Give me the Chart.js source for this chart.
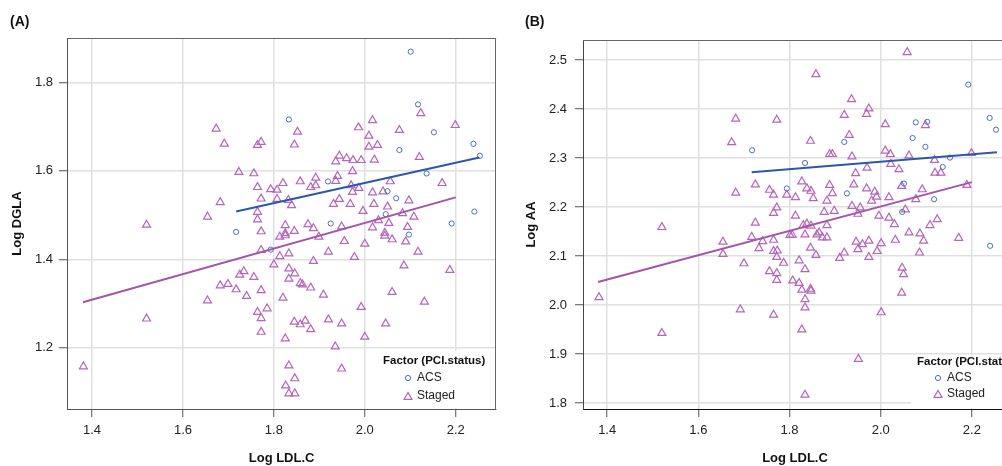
<!DOCTYPE html>
<html><head><meta charset="utf-8">
<script src="https://cdn.jsdelivr.net/npm/chart.js@4.4.1/dist/chart.umd.min.js"></script>
<style>
html,body{margin:0;padding:0;background:#fff;overflow:hidden;width:1002px;height:466px;}
#wrap{position:relative;width:1002px;height:466px;overflow:hidden;background:#fff;}
canvas{position:absolute;top:0;}
#cA{left:0;}
#cB{left:500px;}
</style></head><body>
<div id="wrap">
<canvas id="cA" width="502" height="466"></canvas>
<canvas id="cB" width="520" height="466"></canvas>
</div>
<script>
// ---------- tick labels ----------
const xTicks = [1.4, 1.6, 1.8, 2.0, 2.2];
const aYTicks = [1.2, 1.4, 1.6, 1.8];
const bYTicks = [1.8, 1.9, 2.0, 2.1, 2.2, 2.3, 2.4, 2.5];

// ---------- Panel A: Log LDL.C vs Log DGLA ----------
const acsXA = [2.101,2.117,1.833,2.152,2.239,2.253,2.076,2.136,1.919,2.050,2.069,2.046,1.925,2.191,2.241,2.097,1.717,1.793];
const acsYA = [1.869,1.750,1.716,1.687,1.661,1.634,1.647,1.594,1.576,1.554,1.538,1.502,1.481,1.481,1.508,1.456,1.462,1.422];
const stagedXA = [1.673,1.691,1.723,1.682,1.654,1.520,1.682,1.699,1.717,1.725,
  1.734,1.740,1.654,1.520,1.381,1.772,1.764,1.852,1.845,1.986,
  2.017,2.009,2.009,2.028,1.944,1.936,1.960,1.974,1.992,2.021,
  1.973,1.756,1.858,1.892,1.881,1.892,1.940,1.936,1.820,1.764,
  1.793,1.807,1.970,1.987,2.017,1.973,1.772,1.807,1.832,1.839,
  1.944,1.931,1.968,2.020,1.764,1.764,1.996,1.825,1.772,1.845,
  1.875,1.887,1.813,1.825,1.825,1.899,1.949,2.017,1.955,2.000,
  1.772,1.813,1.833,1.920,1.977,1.800,1.887,1.833,1.756,1.846,
  1.833,1.858,1.863,1.881,1.772,1.820,1.909,1.992,1.764,1.785,
  1.772,1.845,1.858,1.869,1.881,1.920,1.949,1.772,1.825,2.000,
  2.086,2.187,2.060,2.131,2.046,2.117,2.090,2.060,2.044,2.044,
  1.935,1.949,1.833,1.846,1.826,1.833,1.846,
  2.123,2.199,2.076,2.120,2.170,2.056,2.040,2.097,2.050,2.083,2.108,2.053,2.094,2.030];
const stagedYA = [1.695,1.661,1.597,1.529,1.496,1.478,1.341,1.344,1.332,1.365,
  1.373,1.317,1.307,1.266,1.158,1.665,1.658,1.688,1.659,1.698,
  1.714,1.679,1.654,1.658,1.634,1.621,1.628,1.624,1.624,1.625,
  1.599,1.594,1.576,1.584,1.563,1.567,1.588,1.577,1.572,1.563,
  1.558,1.557,1.567,1.561,1.551,1.552,1.537,1.536,1.534,1.522,
  1.536,1.525,1.525,1.525,1.507,1.490,1.509,1.477,1.463,1.464,
  1.479,1.470,1.451,1.454,1.459,1.451,1.474,1.472,1.441,1.435,
  1.421,1.407,1.413,1.417,1.405,1.388,1.396,1.379,1.360,1.368,
  1.356,1.346,1.343,1.336,1.330,1.313,1.320,1.292,1.281,1.289,
  1.267,1.259,1.253,1.261,1.242,1.264,1.255,1.236,1.221,1.225,
  1.386,1.376,1.326,1.304,1.255,1.417,1.440,1.445,1.460,1.453,
  1.203,1.153,1.160,1.131,1.115,1.097,1.097,
  1.730,1.703,1.692,1.631,1.572,1.576,1.553,1.533,1.519,1.504,1.496,1.482,1.473,1.488];
const fitAcsXA = [1.717, 2.252];
const fitAcsYA = [1.508, 1.630];
const fitStagedXA = [1.380, 2.200];
const fitStagedYA = [1.303, 1.540];

// ---------- Panel B: Log LDL.C vs Log AA ----------
const acsXB = [2.102,2.117,1.834,2.152,2.239,2.253,2.077,2.136,1.920,2.051,2.070,2.047,1.926,2.192,2.240,2.098,1.718,1.794];
const acsYB = [2.374,2.216,2.290,2.301,2.382,2.358,2.373,2.282,2.333,2.248,2.341,2.190,2.228,2.450,2.121,2.323,2.316,2.238];
const stagedXB = [1.682,1.673,1.725,1.682,1.520,1.725,1.717,1.654,1.654,1.733,
  1.700,1.692,1.520,1.382,1.772,1.846,1.931,1.920,1.936,1.974,
  1.969,2.010,1.888,1.894,1.937,2.010,2.021,2.022,2.040,1.945,
  1.970,1.827,1.756,1.765,1.794,1.813,1.838,1.847,1.852,1.888,
  1.894,1.941,1.969,1.987,1.991,1.980,2.018,1.882,1.772,1.765,
  1.813,1.876,1.898,1.937,1.955,1.950,1.996,2.018,2.030,1.830,
  1.838,1.847,1.882,1.741,1.765,1.801,1.806,1.834,1.860,1.865,
  1.872,1.882,1.946,1.960,1.974,2.001,2.032,1.765,1.773,1.846,
  1.858,1.920,1.950,1.992,1.772,1.787,1.821,1.910,1.974,1.834,
  1.756,1.772,1.772,1.807,1.821,1.827,1.846,1.847,1.834,1.834,
  1.765,2.001,1.827,2.046,1.951,1.834,2.062,2.086,2.094,2.171,
  2.085,2.047,2.050,2.058,1.858,2.098,2.062,2.118,2.199,2.119,
  2.132,2.189,2.046,2.091,2.077,2.054,2.124,2.108];
const stagedYB = [2.380,2.332,2.246,2.229,2.159,2.168,2.139,2.129,2.104,2.116,
  2.085,1.991,1.943,2.016,2.378,2.335,2.347,2.388,2.420,2.401,
  2.390,2.369,2.308,2.308,2.303,2.315,2.308,2.288,2.277,2.269,
  2.280,2.252,2.235,2.225,2.225,2.220,2.238,2.233,2.218,2.245,
  2.228,2.246,2.238,2.231,2.221,2.213,2.220,2.213,2.199,2.188,
  2.182,2.190,2.192,2.202,2.199,2.186,2.182,2.178,2.165,2.163,
  2.166,2.162,2.163,2.130,2.133,2.143,2.143,2.144,2.144,2.148,
  2.138,2.138,2.129,2.124,2.131,2.126,2.133,2.110,2.111,2.117,
  2.102,2.107,2.114,2.110,2.098,2.086,2.091,2.096,2.098,2.073,
  2.069,2.065,2.051,2.050,2.045,2.031,2.033,2.029,2.012,1.995,
  1.980,1.985,1.950,2.025,1.890,1.817,2.148,2.146,2.131,2.137,
  2.107,2.076,2.063,2.516,2.471,2.367,2.305,2.296,2.310,2.270,
  2.270,2.245,2.243,2.236,2.216,2.195,2.175,2.163];
const fitAcsXB = [1.717, 2.255];
const fitAcsYB = [2.271, 2.312];
const fitStagedXB = [1.380, 2.200];
const fitStagedYB = [2.047, 2.251];

// ---------- styling ----------
const FONT = "'Liberation Sans', Arial, Helvetica, sans-serif";
const ACS_PT = '#4a6fc7', ACS_LINE = '#2c57ae', ST_PT = '#b565ba', ST_LINE = '#a454a9';
const GRID = '#e0e0e0';

function xy(xs, ys) { return xs.map((x, i) => ({ x: x, y: ys[i] })); }

function drawCircle(ctx, x, y, r) { ctx.beginPath(); ctx.arc(x, y, r, 0, Math.PI * 2); ctx.stroke(); }
function drawTri(ctx, x, y, r) {
  ctx.beginPath();
  for (let k = 0; k < 3; k++) {
    const a = k * 2 * Math.PI / 3;
    const px = x + Math.sin(a) * r, py = y - Math.cos(a) * r;
    if (k === 0) ctx.moveTo(px, py); else ctx.lineTo(px, py);
  }
  ctx.closePath(); ctx.stroke();
}

const decor = {
  id: 'decor',
  beforeDatasetsDraw(chart, args, o) {
    const ctx = chart.ctx, a = chart.chartArea, L = o.legend;
    ctx.save();
    // legend background
    ctx.fillStyle = '#ffffff';
    ctx.fillRect(L.bx, L.by, L.bw, L.bh);
    // frame (top / right)
    ctx.strokeStyle = o.frameColor; ctx.lineWidth = 1;
    ctx.beginPath();
    ctx.moveTo(a.left, Math.round(a.top) + 0.5); ctx.lineTo(a.right, Math.round(a.top) + 0.5);
    if (o.rightFrame) { ctx.moveTo(Math.round(a.right) - 0.5, a.top); ctx.lineTo(Math.round(a.right) - 0.5, a.bottom); }
    ctx.stroke();
    // legend texts and keys
    ctx.fillStyle = '#111';
    ctx.textBaseline = 'middle'; ctx.textAlign = 'left';
    ctx.font = 'bold 11.5px ' + FONT;
    ctx.fillText('Factor (PCI.status)', L.titleX, L.titleY);
    ctx.font = '12px ' + FONT;
    ctx.fillStyle = '#222';
    ctx.fillText('ACS', L.textX, L.acsY);
    ctx.fillText('Staged', L.textX, L.stY);
    ctx.lineWidth = 1; ctx.strokeStyle = ACS_PT;
    drawCircle(ctx, L.markerX, L.acsY, 2.6);
    ctx.lineWidth = 1.2; ctx.strokeStyle = ST_PT;
    drawTri(ctx, L.markerX, L.stY + 1, 4.6);
    // panel tag
    ctx.fillStyle = '#111';
    ctx.font = 'bold 14px ' + FONT;
    ctx.fillText(o.tag, o.tagX, 22);
    ctx.restore();
  }
};

function makeChart(id, cfg) {
  const axisFont = { family: FONT, size: 13 };
  const titleFont = { family: FONT, size: 13, weight: 'bold' };
  return new Chart(document.getElementById(id), {
    type: 'scatter',
    data: {
      datasets: [
        { type: 'line', data: xy(cfg.fitAcsX, cfg.fitAcsY), borderColor: ACS_LINE, borderWidth: 2, pointRadius: 0, showLine: true, fill: false, tension: 0, order: 0 },
        { type: 'line', data: xy(cfg.fitStX, cfg.fitStY), borderColor: ST_LINE, borderWidth: 2, pointRadius: 0, showLine: true, fill: false, tension: 0, order: 1 },
        { label: 'ACS', data: xy(cfg.acsX, cfg.acsY), pointStyle: 'circle', pointRadius: 2.6, borderColor: ACS_PT, backgroundColor: 'rgba(0,0,0,0)', borderWidth: 1, order: 2 },
        { label: 'Staged', data: xy(cfg.stX, cfg.stY), pointStyle: 'triangle', pointRadius: 4.6, borderColor: ST_PT, backgroundColor: 'rgba(0,0,0,0)', borderWidth: 1.2, order: 3 }
      ]
    },
    options: {
      responsive: false, animation: false, events: [], devicePixelRatio: 1,
      layout: { padding: { top: cfg.top, right: cfg.padRight, left: 0, bottom: 0 } },
      plugins: { legend: { display: false }, tooltip: { enabled: false }, decor: cfg.decor },
      scales: {
        x: {
          type: 'linear', min: cfg.xMin, max: cfg.xMax,
          afterBuildTicks: ax => { ax.ticks = xTicks.map(v => ({ value: v })); },
          afterFit: ax => { ax.height = 57; },
          grid: { color: GRID, lineWidth: 1.5, tickLength: 8, tickColor: '#555', tickWidth: 1 },
          border: { display: true, color: cfg.xBorder, width: 1 },
          ticks: { padding: 6, color: '#222', font: axisFont, maxRotation: 0, autoSkip: false, callback: v => v.toFixed(1) },
          title: { display: true, text: 'Log LDL.C', color: '#111', font: titleFont, padding: { top: 0, bottom: 0 } }
        },
        y: {
          type: 'linear', min: cfg.yMin, max: cfg.yMax,
          afterBuildTicks: ax => { ax.ticks = cfg.yTicks.map(v => ({ value: v })); },
          afterFit: ax => { ax.width = cfg.yAxisW; },
          grid: { color: GRID, lineWidth: 1.5, tickLength: 8, tickColor: '#555', tickWidth: 1 },
          border: { display: true, color: cfg.yBorder, width: 1 },
          ticks: { padding: cfg.yPad, color: '#222', font: axisFont, autoSkip: false, callback: v => v.toFixed(1) },
          title: { display: true, text: cfg.yTitle, color: '#111', font: titleFont, padding: { top: cfg.yTitlePad, bottom: 0 } }
        }
      }
    },
    plugins: [decor]
  });
}

makeChart('cA', {
  acsX: acsXA, acsY: acsYA, stX: stagedXA, stY: stagedYA,
  fitAcsX: fitAcsXA, fitAcsY: fitAcsYA, fitStX: fitStagedXA, fitStY: fitStagedYA,
  xMin: 1.345, xMax: 2.289, yMin: 1.062, yMax: 1.900, yTicks: aYTicks,
  top: 38, padRight: 3, yAxisW: 67, yPad: 6, yTitle: 'Log DGLA', yTitlePad: 10,
  xBorder: '#555', yBorder: '#555',
  decor: { tag: '(A)', tagX: 10, frameColor: '#666', rightFrame: true,
    legend: { bx: 378, by: 351, bw: 120, bh: 57, titleX: 383, titleY: 361, markerX: 408, acsY: 378, stY: 396, textX: 417 } }
});

makeChart('cB', {
  acsX: acsXB, acsY: acsYB, stX: stagedXB, stY: stagedYB,
  fitAcsX: fitAcsXB, fitAcsY: fitAcsYB, fitStX: fitStagedXB, fitStY: fitStagedYB,
  xMin: 1.347, xMax: 2.277, yMin: 1.788, yMax: 2.541, yTicks: bYTicks,
  top: 40, padRight: 13, yAxisW: 83, yPad: 8, yTitle: 'Log AA', yTitlePad: 24,
  xBorder: '#111', yBorder: '#444',
  decor: { tag: '(B)', tagX: 25, frameColor: '#666', rightFrame: false,
    legend: { bx: 411, by: 356, bw: 110, bh: 52, titleX: 417, titleY: 362, markerX: 438, acsY: 378, stY: 394, textX: 447 } }
});
</script>
</body></html>
